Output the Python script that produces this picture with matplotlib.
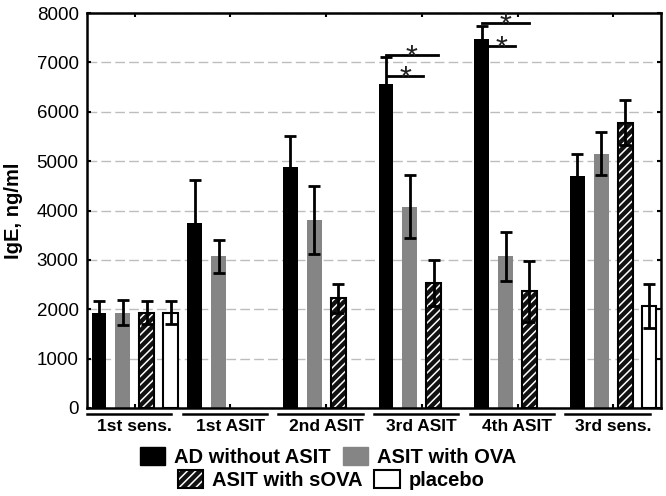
import numpy as np
import matplotlib
matplotlib.use("Agg")
import matplotlib.pyplot as plt
from matplotlib.patches import Patch
from matplotlib.legend_handler import HandlerTuple
import matplotlib.transforms as mtransforms

plt.rcParams['font.family'] = ['Liberation Sans', 'DejaVu Sans']
plt.rcParams['hatch.linewidth'] = 1.1

groups = ['1st sens.', '1st ASIT', '2nd ASIT', '3rd ASIT', '4th ASIT', '3rd sens.']
series_names = ['AD without ASIT', 'ASIT with OVA', 'ASIT with sOVA', 'placebo']
nan = np.nan
ad = [1930, 3750, 4880, 6570, 7480, 4690]
ad_err = [230, 870, 630, 540, 250, 450]
ova = [1930, 3070, 3800, 4080, 3070, 5150]
ova_err = [250, 340, 690, 630, 500, 430]
sova = [1930, nan, 2220, 2530, 2360, 5780]
sova_err = [230, nan, 300, 460, 620, 460]
placebo = [1930, nan, nan, nan, nan, 2070]
placebo_err = [230, nan, nan, nan, nan, 440]

# significance brackets: (group index, start offset, end offset from AD bar, level)
sig_group = [3, 3, 4, 4]
sig_start = [0.0, 0.02, 0.0, 0.07]
sig_end = [0.54, 0.39, 0.49, 0.35]
sig_level = [7150, 6720, 7790, 7340]

fig = plt.figure(figsize=(6.66, 4.96), dpi=100)
ax = fig.add_axes([87/666, 1-408/496, 574/666, 395/496])

x = np.arange(len(groups))
step = 0.25
w = 0.155
offs = [-1.5*step, -0.5*step, 0.5*step, 1.5*step]

ax.set_axisbelow(True)
ax.yaxis.grid(True, color='#bdbdbd', linestyle=(0, (7, 3)), linewidth=1)

ax.bar(x+offs[0], ad, w, color='black', zorder=2)
ax.bar(x+offs[1], ova, w, color='#858585', zorder=2)
ax.bar(x+offs[2], sova, w, facecolor='#111111', edgecolor='white', hatch='////', linewidth=0, zorder=2)
ax.bar(x+offs[2], sova, w, fill=False, edgecolor='black', linewidth=1.5, zorder=2.1)
ax.bar(x+offs[3], placebo, w, facecolor='white', edgecolor='black', linewidth=1.5, zorder=2)

for o, v, e in zip(offs, [ad, ova, sova, placebo], [ad_err, ova_err, sova_err, placebo_err]):
    ax.errorbar(x+o, v, yerr=e, fmt='none', ecolor='black', elinewidth=2, capsize=4, capthick=2, zorder=3)

for g, s, e, lv in zip(sig_group, sig_start, sig_end, sig_level):
    x0 = x[g] + offs[0] + s
    x1 = x[g] + offs[0] + e
    ax.plot([x0, x1], [lv, lv], color='black', lw=2, zorder=4, clip_on=False)
    ax.text((x0+x1)/2, lv-80, '*', fontsize=22, ha='center', va='center', color='#222222', zorder=4)

ax.set_xlim(-0.5, len(groups)-0.5)
ax.set_ylim(0, 8000)
ax.set_yticks(np.arange(0, 8001, 1000))
ax.set_xticks(x)
ax.set_xticklabels(groups, fontsize=12.5, fontweight='bold')
ax.tick_params(axis='x', direction='in', length=3, width=1.5, pad=8, top=True)
ax.tick_params(axis='y', direction='in', length=3, width=1.5, labelsize=13.5, right=True, pad=6)
for sp in ax.spines.values():
    sp.set_linewidth(1.8)

trans = mtransforms.blended_transform_factory(ax.transData, ax.transAxes)
for xi in x:
    ax.plot([xi-0.5, xi+0.38], [-0.016, -0.016], transform=trans, color='black', lw=1.8, clip_on=False)

ax.set_ylabel('IgE, ng/ml', fontsize=14.5, fontweight='bold', labelpad=10)

h_ad = Patch(facecolor='black', edgecolor='black')
h_ova = Patch(facecolor='#858585', edgecolor='#858585')
h_s1 = Patch(facecolor='#111111', edgecolor='white', hatch='////', linewidth=0)
h_s2 = Patch(fill=False, edgecolor='black', linewidth=1.5)
h_pl = Patch(facecolor='white', edgecolor='black', linewidth=1.5)

kw = dict(ncol=2, frameon=False, prop={'weight': 'bold', 'size': 14.5},
          handlelength=1.25, handleheight=1.0, handletextpad=0.45, columnspacing=0.6,
          borderpad=0, borderaxespad=0, loc='center')
leg1 = fig.legend([h_ad, h_ova], series_names[:2], bbox_to_anchor=(0.493, 1-457/496), **kw)
leg2 = fig.legend([(h_s1, h_s2), h_pl], series_names[2:], bbox_to_anchor=(0.497, 1-480/496),
                  handler_map={tuple: HandlerTuple(ndivide=1)}, **kw)

fig.savefig('out.png', dpi=100)
